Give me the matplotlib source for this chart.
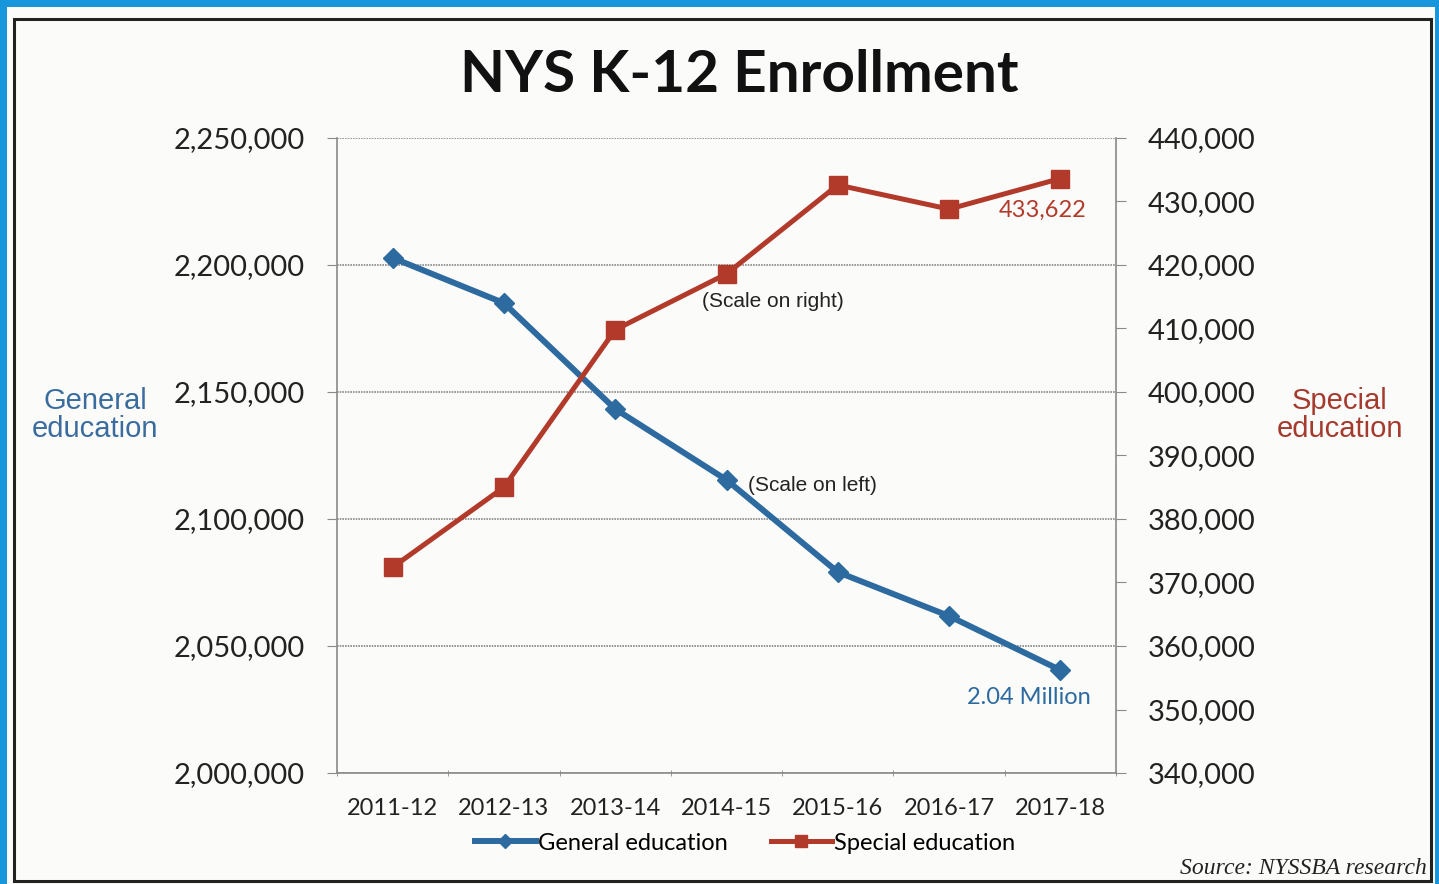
import matplotlib
matplotlib.use("Agg")
import matplotlib.pyplot as plt
from matplotlib.patches import Rectangle
from matplotlib.ticker import FuncFormatter, FixedLocator

years = ["2011-12", "2012-13", "2013-14", "2014-15", "2015-16", "2016-17", "2017-18"]
general = [2202800, 2185000, 2143300, 2115400, 2079100, 2061800, 2040500]
special = [372400, 385000, 409800, 418600, 432600, 428800, 433622]
left_ticks = [2000000, 2050000, 2100000, 2150000, 2200000, 2250000]
right_ticks = [340000, 350000, 360000, 370000, 380000, 390000, 400000,
               410000, 420000, 430000, 440000]

BLUE = "#2c6aa0"
RED = "#b23a2a"
NUMFONT = "Lato"

W, H = 1439, 884
fig = plt.figure(figsize=(W / 100, H / 100), dpi=100)
fig.patch.set_facecolor("#1896dc")
fig.add_artist(Rectangle((7 / W, 0), (1435 - 7) / W, 1 - 7 / H,
                         transform=fig.transFigure, facecolor="#fbfbfa",
                         edgecolor="none", zorder=0))
fig.add_artist(Rectangle((14 / W, 3 / H), (1431 - 14) / W, (881 - 19) / H,
                         transform=fig.transFigure, facecolor="none",
                         edgecolor="#222222", linewidth=2.2, zorder=1))

ax = fig.add_axes([337 / W, 1 - 773 / H, (1116 - 337) / W, (773 - 138) / H])
ax.set_facecolor("none")
x = list(range(len(years)))

ax.set_xlim(-0.5, len(years) - 0.5)
ax.set_ylim(left_ticks[0], left_ticks[-1])
ax.yaxis.set_major_locator(FixedLocator(left_ticks))
ax.yaxis.set_major_formatter(FuncFormatter(lambda v, p: f"{int(v):,}"))
ax.grid(axis="y", color="#8a8a8a", linewidth=1.2, linestyle=(0, (1, 0.6)))
ax.set_axisbelow(True)

for s in ax.spines.values():
    s.set_color("#8a8a8a")
    s.set_linewidth(1.2)
ax.spines["top"].set_visible(False)

ax.set_xticks(x)
ax.set_xticklabels(years, fontsize=17, family=NUMFONT, color="#222222")
ax.set_xticks([i - 0.5 for i in range(len(years) + 1)], minor=True)
ax.tick_params(axis="x", which="major", length=0, pad=18)
ax.tick_params(axis="x", which="minor", length=5, color="#8a8a8a", direction="inout")
ax.tick_params(axis="y", which="major", length=7, color="#8a8a8a", pad=16,
               labelsize=21)
for lab in ax.get_yticklabels():
    lab.set_family(NUMFONT)
    lab.set_color("#222222")

ax2 = ax.twinx()
ax2.set_ylim(right_ticks[0], right_ticks[-1])
ax2.yaxis.set_major_locator(FixedLocator(right_ticks))
ax2.yaxis.set_major_formatter(FuncFormatter(lambda v, p: f"{int(v):,}"))
ax2.tick_params(axis="y", length=7, color="#8a8a8a", pad=16, labelsize=21)
for lab in ax2.get_yticklabels():
    lab.set_family(NUMFONT)
    lab.set_color("#222222")
for s in ax2.spines.values():
    s.set_visible(False)

lg, = ax.plot(x, general, color=BLUE, linewidth=4.3, marker="D", markersize=10,
              markerfacecolor=BLUE, markeredgecolor=BLUE, zorder=3,
              label="General education")
ls, = ax2.plot(x, special, color=RED, linewidth=3.6, marker="s", markersize=13,
               markerfacecolor=RED, markeredgecolor=RED, zorder=3,
               label="Special education")

ax2.text(x[-1] - 0.16, special[-1] - 5000, f"{special[-1]:,}", color=RED,
         fontsize=17, family=NUMFONT, ha="center", va="center")
ax.text(x[-1] - 0.28, general[-1] - 10600, "2.04 Million", color=BLUE,
        fontsize=17, family=NUMFONT, ha="center", va="center")
ax2.text(3.42, 414200, "(Scale on right)", color="#222222", fontsize=15,
         family="Liberation Sans", ha="center", va="center")
ax.text(3.77, 2113000, "(Scale on left)", color="#222222", fontsize=15,
        family="Liberation Sans", ha="center", va="center")

fig.text(739 / W, 1 - 76 / H, "NYS K-12 Enrollment", fontsize=42,
         fontweight="bold", family="Lato", color="#111111",
         ha="center", va="center")
fig.text(95 / W, 1 - 415 / H, "General\neducation", fontsize=21,
         family="Liberation Sans", color="#3a6d9e", ha="center", va="center",
         linespacing=1.0)
fig.text(1340 / W, 1 - 415 / H, "Special\neducation", fontsize=21,
         family="Liberation Sans", color="#a53a2e", ha="center", va="center",
         linespacing=1.0)
fig.text(1427 / W, 1 - 869 / H, "Source: NYSSBA research", fontsize=17,
         family="Liberation Serif", style="italic", color="#222222",
         ha="right", va="center")

fig.legend(handles=[lg, ls], loc="center", bbox_to_anchor=(745 / W, 1 - 843 / H),
           ncol=2, frameon=False, prop={"family": NUMFONT, "size": 17},
           handlelength=2.6, handletextpad=0.1, columnspacing=1.8,
           markerscale=0.7)

fig.savefig("out.png", dpi=100, facecolor=fig.get_facecolor())
